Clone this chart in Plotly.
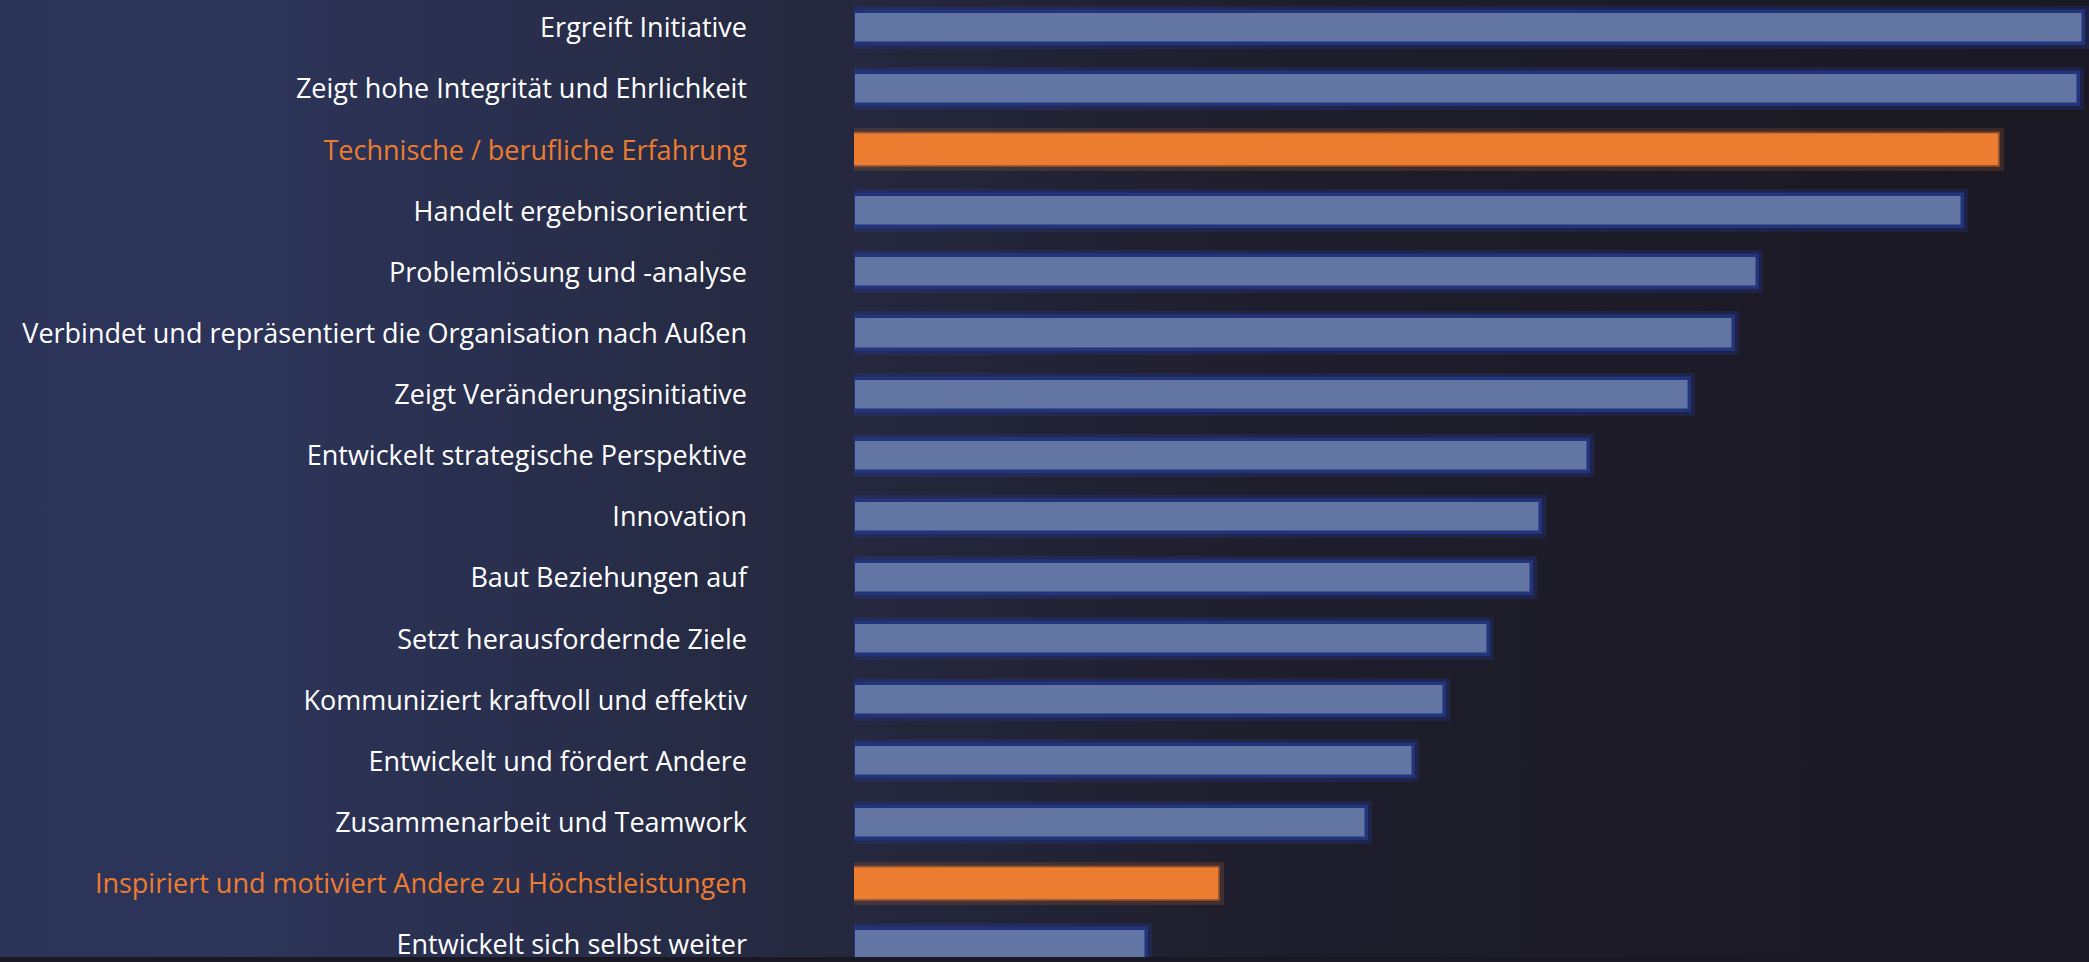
import base64
import plotly.graph_objects as go

categories = [
    "Ergreift Initiative",
    "Zeigt hohe Integrität und Ehrlichkeit",
    "Technische / berufliche Erfahrung",
    "Handelt ergebnisorientiert",
    "Problemlösung und -analyse",
    "Verbindet und repräsentiert die Organisation nach Außen",
    "Zeigt Veränderungsinitiative",
    "Entwickelt strategische Perspektive",
    "Innovation",
    "Baut Beziehungen auf",
    "Setzt herausfordernde Ziele",
    "Kommuniziert kraftvoll und effektiv",
    "Entwickelt und fördert Andere",
    "Zusammenarbeit und Teamwork",
    "Inspiriert und motiviert Andere zu Höchstleistungen",
    "Entwickelt sich selbst weiter",
]
values = [99.2, 98.8, 92.3, 89.4, 72.9, 71.0, 67.4, 59.3, 55.4, 54.7, 51.2, 47.7, 45.2, 41.4, 29.4, 23.6]
highlighted = ["Technische / berufliche Erfahrung",
               "Inspiriert und motiviert Andere zu Höchstleistungen"]

W, H = 2089, 962
ML = 854
BLUE_FILL = "#6275a3"
BLUE_LINE = "#22347c"
ORANGE = "#ec7c30"

fill_colors = [ORANGE if c in highlighted else BLUE_FILL for c in categories]
line_colors = ["rgba(236,124,48,0.38)" if c in highlighted else BLUE_LINE for c in categories]
glow_colors = ["rgba(236,124,48,0.16)" if c in highlighted else "rgba(40,60,170,0.25)" for c in categories]
label_texts = [
    f"<span style='color:{ORANGE}'>{c}</span>" if c in highlighted else c
    for c in categories
]

fig = go.Figure()
# glow layer
fig.add_trace(go.Bar(
    y=categories, x=values, orientation="h", width=0.525,
    marker=dict(color="rgba(0,0,0,0)", line=dict(color=glow_colors, width=11)),
    hoverinfo="skip", showlegend=False,
))
fig.add_trace(go.Bar(
    y=categories, x=values, orientation="h", width=0.525,
    marker=dict(color=fill_colors, line=dict(color=line_colors, width=3.5)),
    showlegend=False,
))

svg = (
    f"<svg xmlns='http://www.w3.org/2000/svg' width='{W}' height='{H}'>"
    "<defs><linearGradient id='g' x1='0' y1='0' x2='1' y2='0'>"
    "<stop offset='0' stop-color='#2b3458'/>"
    "<stop offset='0.12' stop-color='#2c3459'/>"
    "<stop offset='0.36' stop-color='#262a42'/>"
    "<stop offset='0.62' stop-color='#1e1d2b'/>"
    "<stop offset='1' stop-color='#1a1822'/>"
    "</linearGradient></defs>"
    f"<rect width='{W}' height='{H}' fill='url(#g)'/></svg>"
)
src = "data:image/svg+xml;base64," + base64.b64encode(svg.encode()).decode()
plot_w = W - ML

unit = 61.45
top = -28.0 / unit
bottom = top + H / unit

fig.update_layout(
    width=W, height=H,
    margin=dict(l=ML, r=0, t=0, b=0),
    paper_bgcolor="#1a1822",
    plot_bgcolor="rgba(0,0,0,0)",
    barmode="overlay",
    bargap=0,
    font=dict(family="Open Sans", color="#ffffff", size=27),
    images=[dict(source=src, xref="paper", yref="paper",
                 x=-ML / plot_w, y=1, sizex=W / plot_w, sizey=1,
                 xanchor="left", yanchor="top", sizing="stretch", layer="below")],
    xaxis=dict(range=[0, plot_w / 12.4], visible=False, fixedrange=True),
    yaxis=dict(
        type="category", range=[bottom, top],
        tickmode="array", tickvals=categories, ticktext=label_texts,
        showgrid=False, zeroline=False, showline=False, ticks="",
        ticklabelstandoff=106, fixedrange=True,
        tickfont=dict(family="Open Sans", size=27, color="#ffffff"),
    ),
)

fig.write_html(
    "out.html",
    config={"displayModeBar": False},
    post_script=(
        "document.body.style.margin='0';"
        "document.body.style.background='#1a1822';"
        "document.documentElement.style.background='#1a1822';"
        "document.body.style.overflow='hidden';"
        "document.documentElement.style.overflow='hidden';"
    ),
)
